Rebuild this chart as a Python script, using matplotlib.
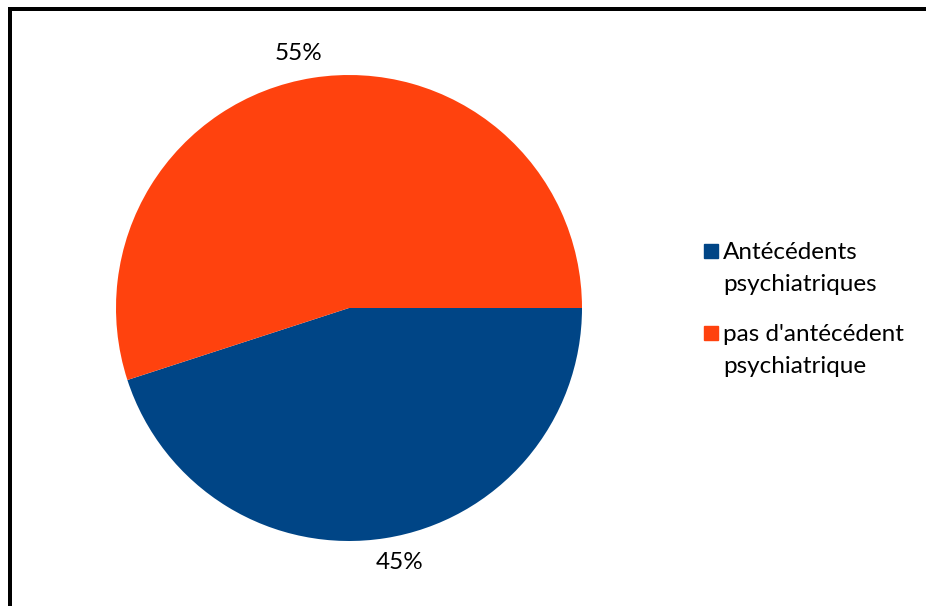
import numpy as np
import matplotlib.pyplot as plt
from matplotlib.lines import Line2D
from matplotlib.patches import Rectangle

labels = ["Antécédents\npsychiatriques", "pas d'antécédent\npsychiatrique"]
values = [45, 55]
colors = ["#004586", "#ff420e"]

W, H = 926, 606
plt.rcParams['font.family'] = ['Lato', 'DejaVu Sans']

fig = plt.figure(figsize=(W / 100, H / 100), dpi=100)


def px(x, y):
    # pixel coords (top-left origin) -> figure fraction
    return x / W, 1 - y / H


# pie axes: centre (349, 308), radius 233 px
cx, cy, r = 349, 308, 233
ax = fig.add_axes([(cx - r) / W, (H - cy - r) / H, 2 * r / W, 2 * r / H])
wedges, texts = ax.pie(values, colors=colors, startangle=0, counterclock=False,
                       labels=[f"{v}%" for v in values], labeldistance=1.12,
                       wedgeprops=dict(linewidth=0),
                       textprops=dict(fontsize=17.5, color='black'))
# labels sit a little counter-clockwise of the slice middle
for w, t in zip(wedges, texts):
    ang = np.deg2rad((w.theta1 + w.theta2) / 2 + 2.2)
    t.set_position((1.115 * np.cos(ang), 1.115 * np.sin(ang)))
    t.set_ha('center')
    t.set_va('center')
ax.set_xlim(-1, 1)
ax.set_ylim(-1, 1)
ax.set_aspect('equal')

# legend drawn by hand
for i, (lab, col) in enumerate(zip(labels, colors)):
    y0 = 244 + i * 82
    x0, y0f = px(704, y0 + 14)
    fig.add_artist(Rectangle((x0, y0f), 14 / W, 14 / H, color=col,
                             transform=fig.transFigure))
    for j, line in enumerate(lab.split("\n")):
        tx, ty = px(723, y0 + 15 + j * 32)
        fig.text(tx, ty, line, fontsize=17.5, va='baseline', ha='left')

# outer frame (left and top visible)
lw = 4 * 72 / 100
fig.add_artist(Line2D([10 / W, 10 / W], [1 - 9 / H, 0], color='black',
                      linewidth=lw, transform=fig.transFigure,
                      solid_capstyle='projecting'))
fig.add_artist(Line2D([10 / W, 1], [1 - 9 / H, 1 - 9 / H], color='black',
                      linewidth=lw, transform=fig.transFigure,
                      solid_capstyle='projecting'))

fig.savefig('out.png', dpi=100)
